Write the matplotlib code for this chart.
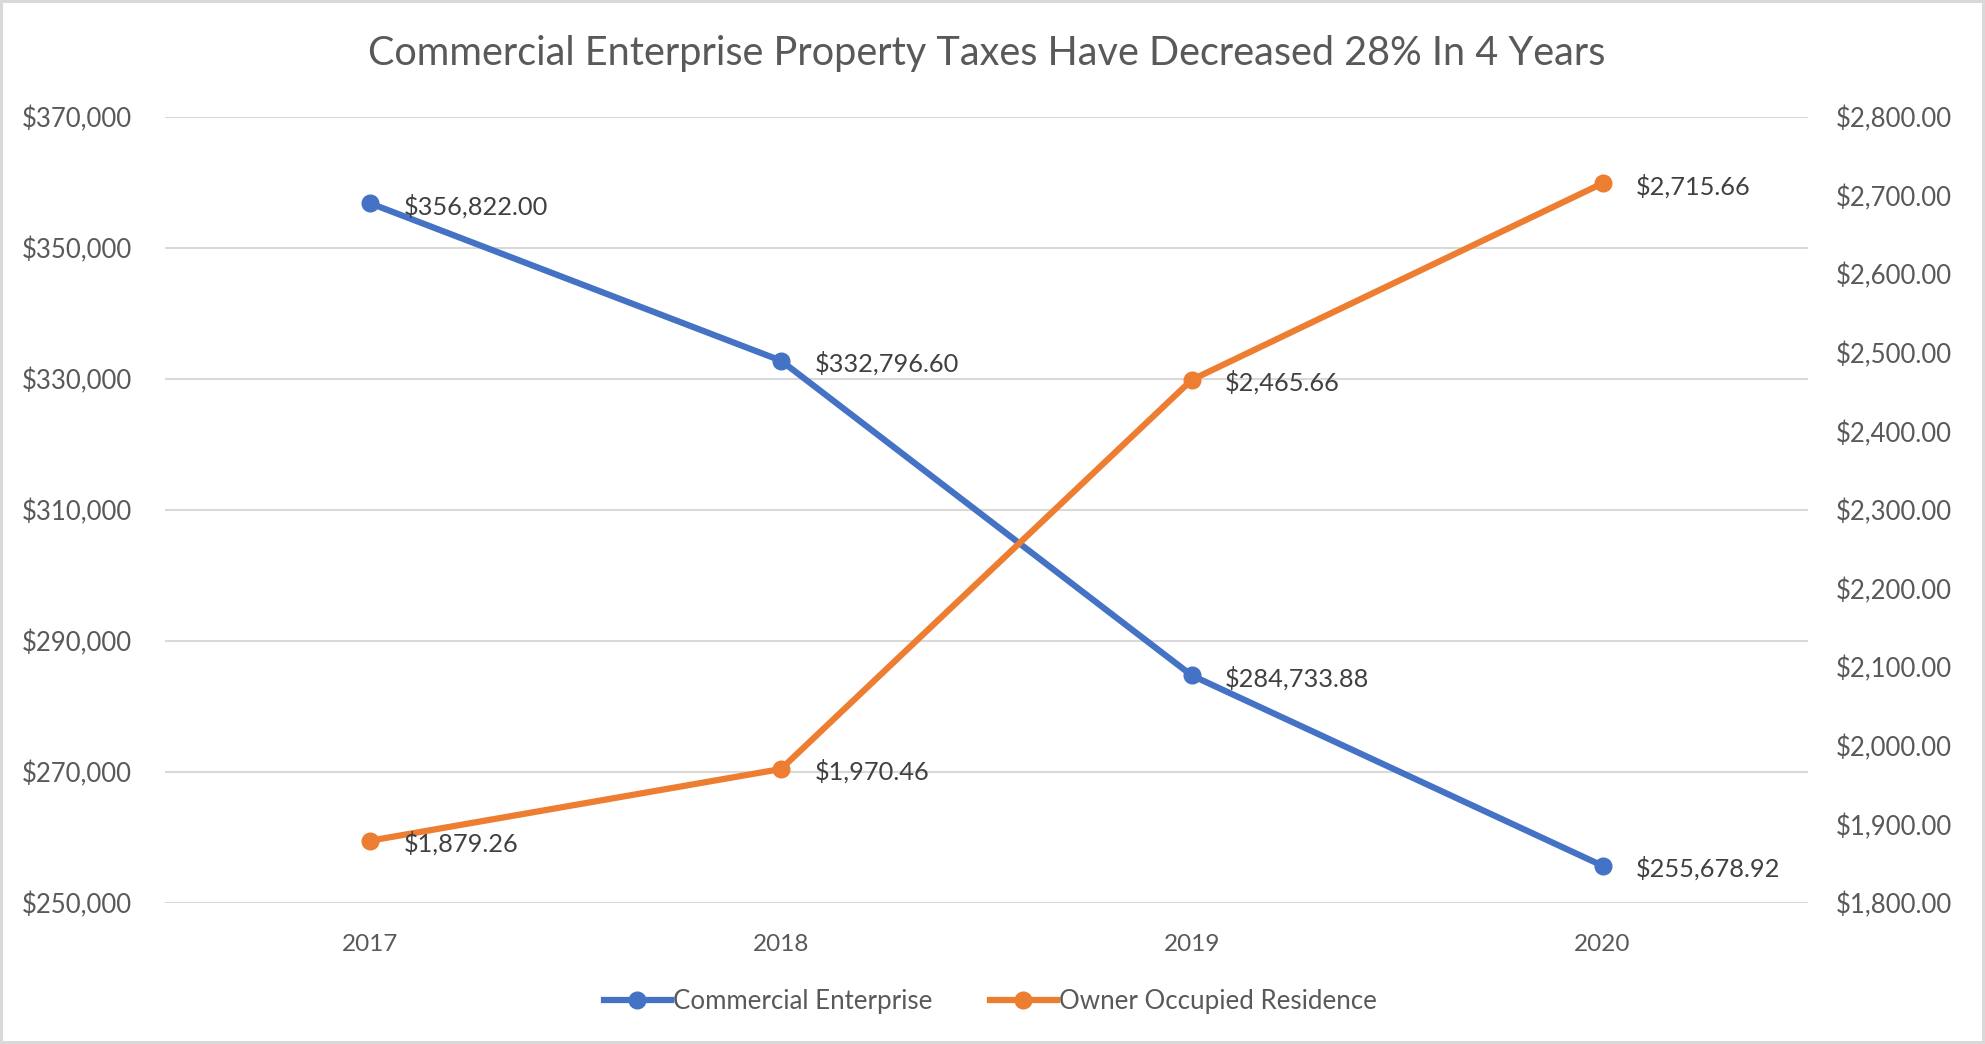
import matplotlib.pyplot as plt
from matplotlib.ticker import FuncFormatter

plt.rcParams['font.family'] = ['Lato', 'DejaVu Sans']

years = ['2017', '2018', '2019', '2020']
commercial = [356822.00, 332796.60, 284733.88, 255678.92]
owner = [1879.26, 1970.46, 2465.66, 2715.66]

BLUE = '#4472C4'
ORANGE = '#ED7D31'
TXT = '#595959'
GRID = '#D9D9D9'

fig = plt.figure(figsize=(19.85, 10.44), dpi=100)
fig.patch.set_edgecolor(GRID)
fig.patch.set_linewidth(3)

ax = fig.add_axes([0.0831, 0.1351, 0.8277, 0.7528])
ax2 = ax.twinx()

x = list(range(len(years)))
l1, = ax.plot(x, commercial, '-o', color=BLUE, lw=4.5, ms=12, label='Commercial Enterprise', zorder=3)
l2, = ax2.plot(x, owner, '-o', color=ORANGE, lw=4.5, ms=12, label='Owner Occupied Residence', zorder=3)

ax.set_xlim(-0.5, 3.5)
ax.set_ylim(250000, 370000)
ax.set_yticks(range(250000, 370001, 20000))
ax2.set_ylim(1800, 2800)
ax2.set_yticks(range(1800, 2801, 100))
ax.set_xticks(x)
ax.set_xticklabels(years)

ax.yaxis.set_major_formatter(FuncFormatter(lambda v, p: '${:,.0f}'.format(v)))
ax2.yaxis.set_major_formatter(FuncFormatter(lambda v, p: '${:,.2f}'.format(v)))

ax.grid(axis='y', color=GRID, lw=1.5)
ax.set_axisbelow(True)
for a in (ax, ax2):
    for s in a.spines.values():
        s.set_visible(False)
    a.tick_params(length=0, labelsize=18.5, labelcolor=TXT)
ax.tick_params(axis='x', labelsize=17.5, pad=22)
ax.tick_params(axis='y', pad=24)
ax2.tick_params(axis='y', pad=20)

for xi, v in zip(x, commercial):
    ax.annotate('${:,.2f}'.format(v), (xi, v), xytext=(24, -2), textcoords='offset points',
                va='center', ha='left', fontsize=18.3, color='#404040', zorder=4)
for xi, v in zip(x, owner):
    ax2.annotate('${:,.2f}'.format(v), (xi, v), xytext=(24, -2), textcoords='offset points',
                 va='center', ha='left', fontsize=18.3, color='#404040', zorder=4)

fig.text(0.497, 0.949, 'Commercial Enterprise Property Taxes Have Decreased 28% In 4 Years',
         ha='center', va='center', fontsize=28.5, color=TXT)

fig.legend([l1, l2], [l1.get_label(), l2.get_label()], loc='center', bbox_to_anchor=(0.499, 0.041),
           ncol=2, frameon=False, fontsize=18.6, labelcolor=TXT, handlelength=2.6,
           handletextpad=0.1, columnspacing=2.2)

fig.savefig('out.png', dpi=100, edgecolor=fig.get_edgecolor())
